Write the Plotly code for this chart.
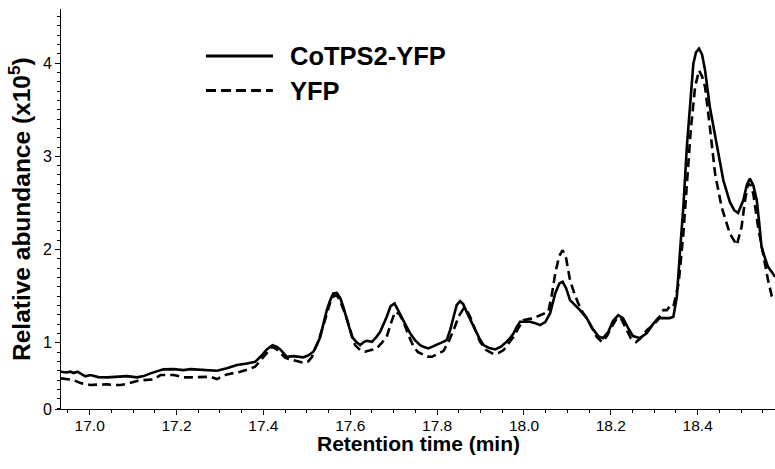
import plotly.graph_objects as go

# Retention time (min) and relative abundance (x10^5)
time_cotps2 = [16.934, 16.946, 16.956, 16.963, 16.972, 16.990, 17.002, 17.020, 17.040, 17.061,
               17.086, 17.109, 17.124, 17.140, 17.156, 17.170, 17.193, 17.216, 17.232, 17.255,
               17.270, 17.293, 17.316, 17.339, 17.362, 17.381, 17.393, 17.408, 17.421, 17.430,
               17.439, 17.454, 17.469, 17.485, 17.492, 17.503, 17.515, 17.523, 17.531, 17.538,
               17.546, 17.554, 17.561, 17.569, 17.577, 17.584, 17.593, 17.604, 17.614, 17.623,
               17.631, 17.638, 17.650, 17.660, 17.669, 17.677, 17.684, 17.693, 17.702, 17.710,
               17.719, 17.729, 17.738, 17.749, 17.761, 17.770, 17.780, 17.790, 17.799, 17.810,
               17.822, 17.830, 17.838, 17.845, 17.853, 17.860, 17.868, 17.878, 17.888, 17.897,
               17.907, 17.920, 17.934, 17.947, 17.960, 17.968, 17.976, 17.983, 17.991, 18.003,
               18.014, 18.026, 18.037, 18.049, 18.060, 18.072, 18.081, 18.089, 18.097, 18.106,
               18.118, 18.129, 18.145, 18.157, 18.171, 18.182, 18.194, 18.205, 18.217, 18.228,
               18.240, 18.251, 18.267, 18.283, 18.297, 18.309, 18.322, 18.336, 18.344, 18.352,
               18.359, 18.367, 18.375, 18.382, 18.390, 18.396, 18.403, 18.410, 18.417, 18.428,
               18.444, 18.459, 18.474, 18.484, 18.493, 18.505, 18.513, 18.520, 18.528, 18.536,
               18.541, 18.547, 18.555, 18.562, 18.571, 18.578]
abund_cotps2 = [0.689, 0.681, 0.690, 0.676, 0.690, 0.640, 0.654, 0.632, 0.629, 0.632,
                0.643, 0.629, 0.643, 0.672, 0.697, 0.715, 0.718, 0.707, 0.718, 0.713,
                0.707, 0.700, 0.726, 0.761, 0.779, 0.796, 0.850, 0.929, 0.975, 0.959,
                0.929, 0.850, 0.857, 0.844, 0.844, 0.863, 0.904, 0.975, 1.064, 1.200,
                1.350, 1.458, 1.529, 1.536, 1.479, 1.386, 1.243, 1.064, 1.008, 0.975,
                1.008, 1.021, 1.011, 1.061, 1.118, 1.200, 1.279, 1.393, 1.422, 1.350,
                1.261, 1.179, 1.101, 1.029, 0.975, 0.954, 0.940, 0.959, 0.975, 1.002,
                1.029, 1.136, 1.279, 1.404, 1.447, 1.415, 1.332, 1.233, 1.136, 1.050,
                0.975, 0.943, 0.929, 0.959, 1.011, 1.050, 1.101, 1.168, 1.225, 1.225,
                1.225, 1.211, 1.190, 1.222, 1.315, 1.529, 1.634, 1.654, 1.586, 1.458,
                1.404, 1.350, 1.261, 1.158, 1.072, 1.050, 1.115, 1.233, 1.297, 1.265,
                1.158, 1.072, 1.050, 1.104, 1.200, 1.265, 1.265, 1.265, 1.279, 1.493,
                1.961, 2.457, 3.100, 3.568, 3.994, 4.115, 4.155, 4.093, 3.922, 3.529,
                3.100, 2.743, 2.511, 2.422, 2.393, 2.529, 2.690, 2.762, 2.690, 2.529,
                2.315, 2.029, 1.908, 1.814, 1.758, 1.707]

time_yfp = [16.934, 16.946, 16.963, 16.979, 17.002, 17.020, 17.040, 17.055, 17.071, 17.084,
            17.094, 17.109, 17.124, 17.140, 17.147, 17.163, 17.176, 17.193, 17.204, 17.216,
            17.232, 17.247, 17.262, 17.278, 17.293, 17.303, 17.316, 17.331, 17.347, 17.363,
            17.381, 17.390, 17.400, 17.410, 17.420, 17.430, 17.439, 17.450, 17.462, 17.476,
            17.492, 17.503, 17.512, 17.519, 17.527, 17.537, 17.546, 17.554, 17.562, 17.569,
            17.577, 17.588, 17.600, 17.611, 17.623, 17.634, 17.648, 17.661, 17.672, 17.684,
            17.693, 17.703, 17.713, 17.723, 17.733, 17.746, 17.756, 17.769, 17.778, 17.788,
            17.801, 17.815, 17.827, 17.838, 17.850, 17.861, 17.868, 17.876, 17.888, 17.899,
            17.913, 17.930, 17.941, 17.953, 17.965, 17.976, 17.987, 17.999, 18.010, 18.022,
            18.030, 18.037, 18.046, 18.056, 18.064, 18.072, 18.081, 18.089, 18.097, 18.106,
            18.115, 18.125, 18.135, 18.145, 18.157, 18.168, 18.180, 18.191, 18.203, 18.214,
            18.223, 18.235, 18.246, 18.258, 18.269, 18.283, 18.297, 18.308, 18.321, 18.329,
            18.336, 18.344, 18.356, 18.367, 18.375, 18.384, 18.394, 18.403, 18.410, 18.417,
            18.428, 18.440, 18.455, 18.465, 18.474, 18.490, 18.501, 18.509, 18.516, 18.522,
            18.528, 18.539, 18.547, 18.555, 18.562, 18.570, 18.578]
abund_yfp = [0.619, 0.611, 0.600, 0.568, 0.547, 0.552, 0.554, 0.547, 0.547, 0.557,
             0.571, 0.590, 0.600, 0.611, 0.608, 0.654, 0.654, 0.654, 0.643, 0.629,
             0.629, 0.629, 0.632, 0.636, 0.611, 0.632, 0.661, 0.675, 0.689, 0.713,
             0.743, 0.793, 0.850, 0.911, 0.957, 0.932, 0.886, 0.841, 0.822, 0.809,
             0.786, 0.799, 0.850, 0.940, 1.029, 1.168, 1.315, 1.436, 1.500, 1.511,
             1.447, 1.315, 1.136, 0.975, 0.922, 0.904, 0.922, 0.940, 0.997, 1.064,
             1.200, 1.332, 1.308, 1.225, 1.093, 0.957, 0.900, 0.868, 0.852, 0.850,
             0.879, 0.914, 1.018, 1.136, 1.286, 1.369, 1.350, 1.279, 1.136, 1.011,
             0.922, 0.879, 0.890, 0.922, 0.997, 1.064, 1.158, 1.243, 1.254, 1.261,
             1.281, 1.297, 1.318, 1.332, 1.511, 1.744, 1.929, 1.993, 1.908, 1.672,
             1.543, 1.422, 1.329, 1.261, 1.158, 1.061, 1.008, 1.072, 1.179, 1.265,
             1.265, 1.158, 1.050, 1.008, 1.050, 1.136, 1.190, 1.243, 1.350, 1.350,
             1.393, 1.386, 1.636, 2.172, 2.672, 3.279, 3.743, 3.922, 3.858, 3.743,
             3.315, 2.815, 2.457, 2.293, 2.172, 2.047, 2.243, 2.529, 2.708, 2.690,
             2.601, 2.243, 2.047, 1.814, 1.672, 1.511, 1.533]

series_names = ["CoTPS2-YFP", "YFP"]
x_title = "Retention time (min)"
y_title = "Relative abundance (x10<sup>5</sup>)"
x_ticks = [17.0, 17.2, 17.4, 17.6, 17.8, 18.0, 18.2, 18.4]
x_tick_text = ["17.0", "17.2", "17.4", "17.6", "17.8", "18.0", "18.2", "18.4"]
# the plotted y axis starts above zero; its bottom is labelled "0"
y_bottom = 0.29
y_top = 4.58
y_ticks = [y_bottom, 1, 2, 3, 4]
y_tick_text = ["0", "1", "2", "3", "4"]

FONT = "Liberation Sans, Arial, sans-serif"

fig = go.Figure()
fig.add_trace(go.Scatter(x=time_cotps2, y=abund_cotps2, mode="lines", name=series_names[0],
                         line=dict(color="black", width=2.6), showlegend=False))
fig.add_trace(go.Scatter(x=time_yfp, y=abund_yfp, mode="lines", name=series_names[1],
                         line=dict(color="black", width=2.6, dash="9px,5px"), showlegend=False))

# legend drawn as shapes + text (long line samples like the original)
L, T, B = 61, 9, 409
W, H = 775 - L, B - T
def px(x): return (x - L) / W
def py(y): return (B - y) / H

fig.add_shape(type="line", xref="paper", yref="paper", x0=px(206), x1=px(273), y0=py(56), y1=py(56),
              line=dict(color="black", width=3))
fig.add_shape(type="line", xref="paper", yref="paper", x0=px(206), x1=px(273), y0=py(90.5), y1=py(90.5),
              line=dict(color="black", width=3, dash="10px,5px"))
fig.add_annotation(xref="paper", yref="paper", x=px(288), y=py(56), xanchor="left", yanchor="middle",
                   text="<b>%s</b>" % series_names[0], showarrow=False,
                   font=dict(family=FONT, size=25.5, color="black"))
fig.add_annotation(xref="paper", yref="paper", x=px(288), y=py(90.5), xanchor="left", yanchor="middle",
                   text="<b>%s</b>" % series_names[1], showarrow=False,
                   font=dict(family=FONT, size=25.5, color="black"))

# axis titles as annotations for exact placement
fig.add_annotation(xref="paper", yref="paper", x=0.5, y=py(443), xanchor="center", yanchor="middle",
                   text="<b>%s</b>" % x_title, showarrow=False,
                   font=dict(family=FONT, size=21, color="black"))
fig.add_annotation(xref="paper", yref="paper", x=px(19), y=0.5, xanchor="center", yanchor="middle",
                   text="<b>%s</b>" % y_title, showarrow=False, textangle=-90,
                   font=dict(family=FONT, size=24.5, color="black"))

fig.update_layout(
    width=775, height=469,
    margin=dict(l=L, r=0, t=T, b=469 - B),
    paper_bgcolor="white", plot_bgcolor="white",
    font=dict(family=FONT, color="black"),
)
fig.update_xaxes(
    range=[16.934, 18.578], showline=True, linecolor="black", linewidth=1,
    showgrid=False, zeroline=False, ticks="outside", ticklen=5, tickcolor="black",
    tickmode="array", tickvals=x_ticks, ticktext=x_tick_text,
    tickfont=dict(family=FONT, size=15.5, color="black"), ticklabelstandoff=-3,
    minor=dict(tickmode="linear", tick0=16.95, dtick=0.05, ticks="outside", ticklen=3, tickcolor="black"),
)
fig.update_yaxes(
    range=[y_bottom, y_top], showline=True, linecolor="black", linewidth=1,
    showgrid=False, zeroline=False, ticks="outside", ticklen=5, tickcolor="black",
    tickmode="array", tickvals=y_ticks, ticktext=y_tick_text,
    tickfont=dict(family=FONT, size=16, color="black"),
    minor=dict(tickmode="linear", tick0=0, dtick=0.1, ticks="outside", ticklen=3, tickcolor="black"),
)

fig.write_html("out.html")
